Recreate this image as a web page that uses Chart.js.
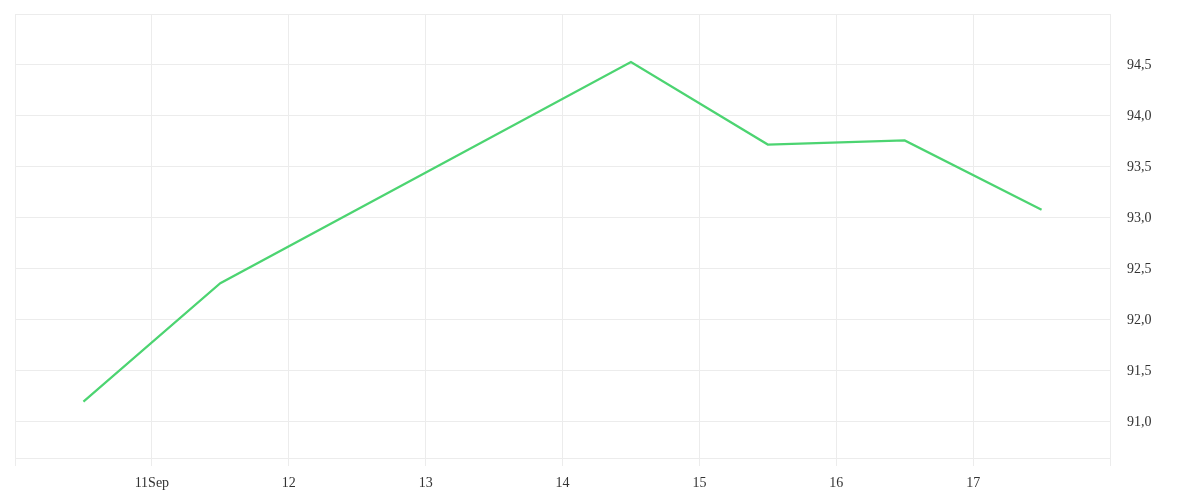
<!DOCTYPE html>
<html>
<head>
<meta charset="utf-8">
<script src="https://cdn.jsdelivr.net/npm/chart.js@4/dist/chart.umd.min.js"></script>
<style>
  html, body { margin: 0; padding: 0; background: #fff; }
  #wrap { width: 1200px; height: 500px; position: relative; }
</style>
</head>
<body>
<div id="wrap"><canvas id="myChart"></canvas></div>
<script>
// 数据：9月各日（中午）的数值
const days = [10.5, 11.5, 14.5, 15.5, 16.5, 17.5];
const values = [91.2, 92.36, 94.53, 93.72, 93.76, 93.08];
const dayTicks = [11, 12, 13, 14, 15, 16, 17];
const monthLabel = 'Sep';

const gridColor = '#ececec';
const fontCfg = { family: 'Liberation Serif', size: 14 };

new Chart(document.getElementById('myChart'), {
  type: 'line',
  data: {
    datasets: [{
      data: days.map((d, i) => ({ x: d, y: values[i] })),
      borderColor: '#4cd471',
      borderWidth: 2.2,
      pointRadius: 0,
      fill: false,
      tension: 0
    }]
  },
  options: {
    responsive: true,
    maintainAspectRatio: false,
    animation: false,
    layout: { padding: { left: 15, top: 14, right: 0, bottom: 0 } },
    plugins: {
      legend: { display: false },
      tooltip: { enabled: false }
    },
    scales: {
      x: {
        type: 'linear',
        min: 10,
        max: 18,
        afterBuildTicks: (scale) => {
          scale.ticks = [10].concat(dayTicks, [18]).map(v => ({ value: v }));
        },
        afterFit: (scale) => {
          scale.height = 42;
          scale.paddingLeft = 0;
          scale.paddingRight = 0;
        },
        ticks: {
          color: '#333',
          font: fontCfg,
          padding: 9,
          maxRotation: 0,
          autoSkip: false,
          callback: (v) => {
            if (v === 11) return '11' + monthLabel;
            return dayTicks.includes(v) ? String(v) : '';
          }
        },
        grid: {
          color: gridColor,
          lineWidth: 1,
          drawTicks: true,
          tickLength: 8
        },
        border: { display: true, color: gridColor }
      },
      y: {
        position: 'right',
        min: 90.647,
        max: 95,
        afterBuildTicks: (scale) => {
          const t = [90.647];
          for (let v = 91; v <= 95.001; v += 0.5) t.push(Math.round(v * 10) / 10);
          scale.ticks = t.map(v => ({ value: v }));
        },
        afterFit: (scale) => {
          scale.width = 90;
          scale.paddingTop = 0;
          scale.paddingBottom = 0;
        },
        ticks: {
          color: '#333',
          font: fontCfg,
          padding: 17,
          callback: (v) => {
            if (v < 91 || v >= 95) return '';
            return v.toFixed(1).replace('.', ',');
          }
        },
        grid: {
          color: gridColor,
          lineWidth: 1,
          drawTicks: false
        },
        border: { display: true, color: gridColor }
      }
    }
  }
});
</script>
</body>
</html>
